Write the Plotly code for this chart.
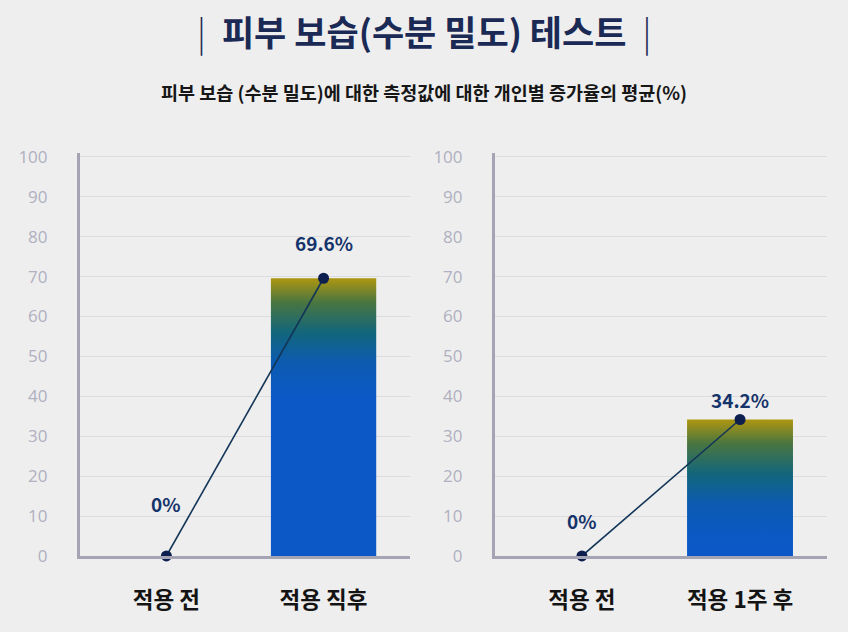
import plotly.graph_objects as go
from plotly.subplots import make_subplots

# data
title_text = "피부 보습(수분 밀도) 테스트"
subtitle_text = "피부 보습 (수분 밀도)에 대한 측정값에 대한 개인별 증가율의 평균(%)"

left_categories = ["적용 전", "적용 직후"]
left_values = [0, 69.6]

right_categories = ["적용 전", "적용 1주 후"]
right_values = [0, 34.2]

y_ticks = [0, 10, 20, 30, 40, 50, 60, 70, 80, 90, 100]

BG = "#eeeeee"
NAVY = "#0c1f4f"
AXIS_GRAY = "#a4a4b4"
FONT = "Noto Sans CJK KR"
BAR_HALF = 0.335
GRADIENT_SPAN = 30  # y units the yellow->blue fade takes at the top of a bar

bar_scale = [
    [0.0, "#0b58c6"],
    [0.3, "#0c5bb0"],
    [0.55, "#13667a"],
    [0.8, "#4a7640"],
    [1.0, "#ae9610"],
]

fig = make_subplots(rows=1, cols=2)

panels = [
    (1, left_categories, left_values, [52, 36]),
    (2, right_categories, right_values, [35, 20]),
]

for col, cats, vals, label_shift in panels:
    xs = list(range(len(cats)))

    # bars as filled polygons so they can carry a vertical gradient
    for x, v in zip(xs, vals):
        if v <= 0:
            continue
        fig.add_trace(
            go.Scatter(
                x=[x - BAR_HALF, x + BAR_HALF, x + BAR_HALF, x - BAR_HALF, x - BAR_HALF],
                y=[0, 0, v, v, 0],
                mode="lines",
                line=dict(width=0),
                fill="toself",
                fillgradient=dict(
                    type="vertical",
                    colorscale=bar_scale,
                    start=v - GRADIENT_SPAN,
                    stop=v,
                ),
                hoverinfo="skip",
                showlegend=False,
            ),
            row=1,
            col=col,
        )

    # connecting line with markers
    fig.add_trace(
        go.Scatter(
            x=xs,
            y=vals,
            mode="lines+markers",
            line=dict(color="#123558", width=1.6),
            marker=dict(color=NAVY, size=11),
            cliponaxis=False,
            showlegend=False,
        ),
        row=1,
        col=col,
    )

    for x, v, shift in zip(xs, vals, label_shift):
        fig.add_annotation(
            x=x,
            y=v,
            xref=f"x{col if col > 1 else ''}",
            yref=f"y{col if col > 1 else ''}",
            text=f"<b>{v:g}%</b>",
            showarrow=False,
            yshift=shift,
            font=dict(family=FONT, size=19, color="#15336b"),
        )

    fig.update_xaxes(
        range=[-0.55, 1.55],
        tickvals=xs,
        ticktext=[f"<b>{c}</b>" for c in cats],
        tickfont=dict(family=FONT, size=22.5, color="#141414", weight=900),
        ticklabelstandoff=22,
        showgrid=False,
        zeroline=False,
        showline=True,
        linecolor=AXIS_GRAY,
        linewidth=2.5,
        ticks="",
        automargin=False,
        row=1,
        col=col,
    )
    fig.update_yaxes(
        range=[0, 101],
        tickvals=y_ticks,
        tickfont=dict(family="Open Sans", size=17, color="#b0b0c0"),
        ticklabelstandoff=26,
        showgrid=True,
        gridcolor="#dcdcdc",
        gridwidth=1,
        zeroline=False,
        showline=True,
        linecolor=AXIS_GRAY,
        linewidth=3,
        ticks="",
        automargin=False,
        row=1,
        col=col,
    )

fig.update_layout(
    width=848,
    height=632,
    margin=dict(l=0, r=0, t=0, b=0),
    paper_bgcolor=BG,
    plot_bgcolor=BG,
    font=dict(family=FONT),
    xaxis=dict(domain=[0.0943, 0.4835]),
    xaxis2=dict(domain=[0.5837, 0.9752]),
    yaxis=dict(domain=[0.1203, 0.758]),
    yaxis2=dict(domain=[0.1203, 0.758]),
)

bar_glyph = '<span style="font-weight:300">|</span>'
fig.add_annotation(
    x=0.5,
    y=0.951,
    xref="paper",
    yref="paper",
    yanchor="middle",
    text=f"{bar_glyph}  <b>{title_text}</b>  {bar_glyph}",
    showarrow=False,
    font=dict(family=FONT, size=35, color="#1b2955", weight=900),
)
fig.add_annotation(
    x=0.5,
    y=0.855,
    xref="paper",
    yref="paper",
    yanchor="middle",
    text=f"<b>{subtitle_text}</b>",
    showarrow=False,
    font=dict(family=FONT, size=18.5, color="#161616", weight=900),
)

fig.write_html(
    "out.html",
    config={"displayModeBar": False},
    post_script="document.body.style.margin='0';",
)
